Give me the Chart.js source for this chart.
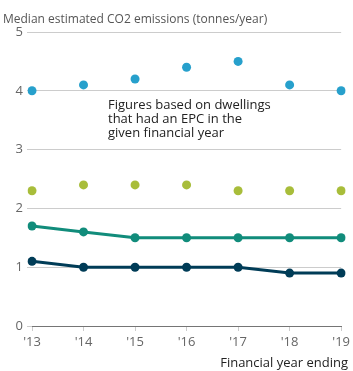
<!DOCTYPE html>
<html>
<head>
<meta charset="utf-8">
<script src="https://cdn.jsdelivr.net/npm/chart.js@4"></script>
<style>
    body { margin: 0; background: #fff; font-family: "Open Sans", sans-serif; }
    #wrap { position: relative; width: 353px; height: 371px; }
    .txt { position: absolute; white-space: nowrap; }
    #title { left: 3px; top: 10px; font-size: 12px; color: #555; }
    #note { left: 108px; top: 97px; font-size: 13px; line-height: 14px; color: #222; }
    #xtitle { right: 5px; top: 353px; font-size: 13px; color: #222; }
</style>
</head>
<body>
<div id="wrap">
    <canvas id="chart" width="353" height="371"></canvas>
    <div id="title" class="txt">Median estimated CO2 emissions (tonnes/year)</div>
    <div id="note" class="txt">Figures based on dwellings<br>that had an EPC in the<br>given financial year</div>
    <div id="xtitle" class="txt">Financial year ending</div>
</div>
<script>
// Chart data
const years = ["'13", "'14", "'15", "'16", "'17", "'18", "'19"];
const blueDots = [4.0, 4.1, 4.2, 4.4, 4.5, 4.1, 4.0];
const greenDots = [2.3, 2.4, 2.4, 2.4, 2.3, 2.3, 2.3];
const tealLine = [1.7, 1.6, 1.5, 1.5, 1.5, 1.5, 1.5];
const navyLine = [1.1, 1.0, 1.0, 1.0, 1.0, 0.9, 0.9];
const yTicks = [0, 1, 2, 3, 4, 5];

const tickFont = { family: 'Open Sans', size: 13 };

function series(data, color, showLine) {
    return {
        data: data,
        borderColor: color,
        backgroundColor: color,
        pointBackgroundColor: color,
        pointBorderWidth: 0,
        pointRadius: 4.5,
        borderWidth: 3,
        showLine: showLine,
        tension: 0
    };
}

const ctx = document.getElementById('chart').getContext('2d');
const chart = new Chart(ctx, {
    type: 'line',
    data: {
        labels: years,
        datasets: [
            series(blueDots, '#27a0cc', false),
            series(greenDots, '#a8bd3a', false),
            series(tealLine, '#118c7b', true),
            series(navyLine, '#003c57', true)
        ]
    },
    options: {
        responsive: false,
        animation: false,
        layout: { padding: { top: 32, right: 11, left: 0, bottom: 0 } },
        plugins: {
            legend: { display: false },
            tooltip: { enabled: false }
        },
        scales: {
            x: {
                offset: false,
                afterFit: scale => { scale.height = 45; },
                grid: {
                    drawOnChartArea: false,
                    tickLength: 5,
                    tickColor: '#ccc'
                },
                border: { color: '#757575', width: 1 },
                ticks: { color: '#666', font: tickFont, padding: 3, maxRotation: 0 }
            },
            y: {
                min: 0,
                max: 5,
                afterFit: scale => { scale.width = 32; },
                afterBuildTicks: scale => { scale.ticks = yTicks.map(v => ({ value: v })); },
                grid: {
                    color: c => c.tick && c.tick.value === 0 ? '#757575' : '#ccc',
                    tickColor: '#ccc',
                    tickLength: 5
                },
                border: { display: false },
                ticks: { color: '#666', font: tickFont, padding: 4 }
            }
        }
    }
});
</script>
</body>
</html>
